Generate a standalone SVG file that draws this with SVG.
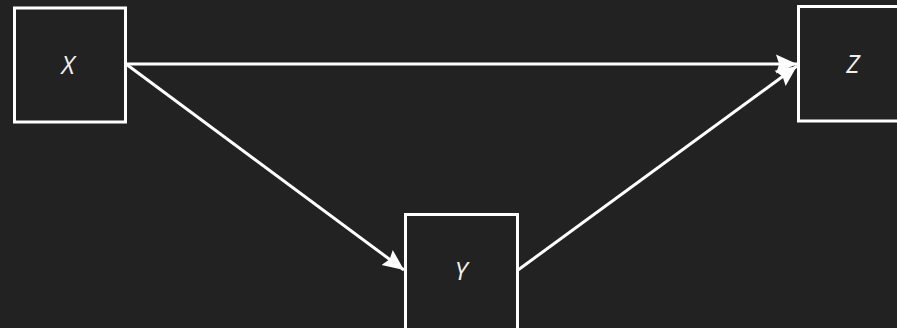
<svg xmlns="http://www.w3.org/2000/svg" width="897" height="328" viewBox="0 0 897 328">
<defs>
<style>
.box{fill:#222222;stroke:#ffffff;stroke-width:3}
.lbl{font-family:"Open Sans","Liberation Sans",sans-serif;font-style:italic;font-size:25px;fill:#f0f0f0;text-anchor:middle;dominant-baseline:central}
.edge{stroke:#ffffff;stroke-width:3;fill:none}
</style>
<marker id="ah" viewBox="0 0 10 10" refX="10" refY="5" markerWidth="7" markerHeight="7" orient="auto" markerUnits="strokeWidth">
<path d="M0,0.5 L10,5 L0,9.5 L1.5,5 Z" fill="#ffffff"/>
</marker>
</defs>
<rect width="897" height="328" fill="#222222"/>
<g id="edges">
<line class="edge" x1="126" y1="64" x2="797" y2="64" marker-end="url(#ah)"/>
<line class="edge" x1="126" y1="64" x2="404" y2="270" marker-end="url(#ah)"/>
<line class="edge" x1="518" y1="270" x2="797" y2="66" marker-end="url(#ah)"/>
</g>
<g id="node-x">
<rect class="box" x="14.5" y="8" width="111" height="114"/>
<text class="lbl" x="68" y="64">X</text>
</g>
<g id="node-y">
<rect class="box" x="405.5" y="214.5" width="112" height="120"/>
<text class="lbl" x="461" y="270">Y</text>
</g>
<g id="node-z">
<rect class="box" x="798.5" y="6.5" width="112" height="114.5"/>
<text class="lbl" x="853" y="63">Z</text>
</g>
</svg>
